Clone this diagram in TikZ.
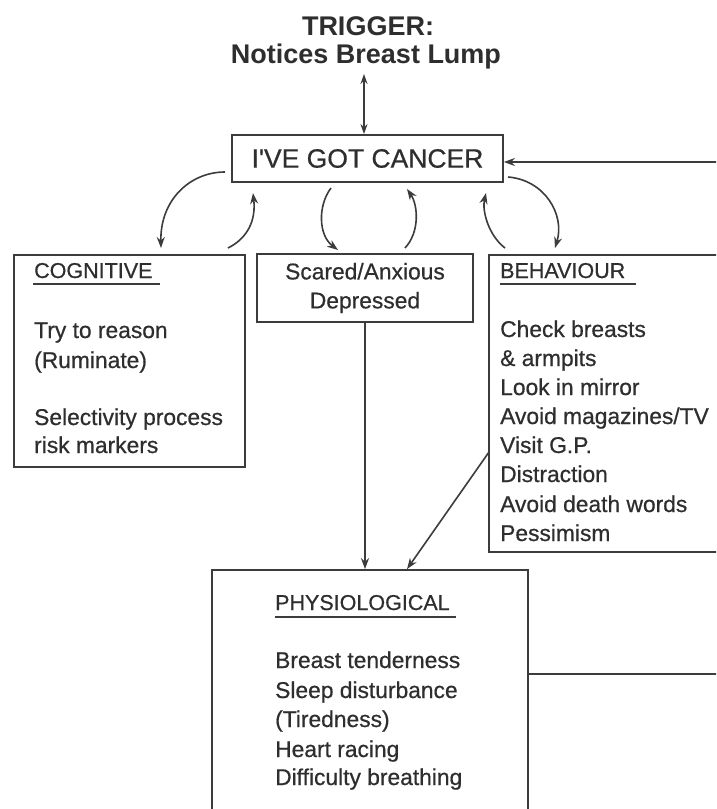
\documentclass[tikz,border=0pt]{standalone}
\usepackage{fontspec}
\setmainfont{Liberation Sans}
\newfontfamily\medium{Liberation Sans}[FakeBold=0.6]
\usetikzlibrary{arrows.meta}
\definecolor{ink}{HTML}{2E2E2E}
\definecolor{rule}{HTML}{3C3C3C}
\begin{document}
\begin{tikzpicture}[x=1pt,y=-1pt]
\tikzset{
  box/.style={draw=rule, line width=1.8pt, inner sep=0pt},
  body/.style={font=\medium\fontsize{22.8}{29}\selectfont, text=ink, inner sep=0pt, anchor=base west},
  head/.style={font=\medium\fontsize{21.5}{26}\selectfont, text=ink, inner sep=0pt, anchor=base west},
  title/.style={font=\bfseries\fontsize{27}{32}\selectfont, text=ink, inner sep=0pt, anchor=base},
  arr/.style={-{Stealth[length=11pt,width=8pt]}, draw=rule, line width=1.6pt},
  dblarr/.style={{Stealth[length=10pt,width=7pt]}-{Stealth[length=10pt,width=7pt]}, draw=rule, line width=1.6pt},
  plain/.style={draw=rule, line width=1.6pt},
  uline/.style={draw=rule, line width=1.3pt},
}
\useasboundingbox (0,0) rectangle (716,809);
\clip (0,0) rectangle (716,809);
\fill[white] (0,0) rectangle (716,809);

% trigger heading
\node[title] (trig1) at (368,35) {TRIGGER:};
\node[title] (trig2) at (366,63) {Notices Breast Lump};
\coordinate (trigfoot) at (364,74);

% central belief
\node[box, minimum width=271pt, minimum height=47pt,
      font=\medium\fontsize{26.5}{30}\selectfont, text=ink] (cancer) at (367.5,158.5) {I\char39VE GOT CANCER};

% the four response boxes
\node[box, minimum width=231pt, minimum height=212pt] (cog) at (129.5,361) {};
\node[box, minimum width=216pt, minimum height=68pt, align=center,
      font=\medium\fontsize{22.8}{29}\selectfont, text=ink] (scared) at (365,288) {Scared/Anxious\\Depressed};
\node[box, minimum width=251pt, minimum height=297pt] (behav) at (614.5,403.5) {};
\node[box, minimum width=316pt, minimum height=260pt] (phys) at (370,700) {};

% cognitive text
\node[head] (coghead) at (34,278) {COGNITIVE};
\draw[uline] (33,284) -- (160,284);
\foreach \y/\t [count=\i] in {338/{Try to reason}, 368/{(Ruminate)},
                              425/{Selectivity process}, 453/{risk markers}}
  \node[body] (cog\i) at (34,\y) {\t};

% behaviour text
\node[head] (behavhead) at (500,278) {BEHAVIOUR};
\draw[uline] (500,284) -- (636,284);
\foreach \y/\t [count=\i] in {337/{Check breasts}, 366/{\& armpits}, 395/{Look in mirror},
                              424/{Avoid magazines/TV}, 453/{Visit G.P.}, 482/{Distraction},
                              512/{Avoid death words}, 541/{Pessimism}}
  \node[body] (behav\i) at (500,\y) {\t};

% physiological text
\node[head] (physhead) at (275,610) {PHYSIOLOGICAL};
\draw[uline] (275,617) -- (456,617);
\foreach \y/\t [count=\i] in {668/{Breast tenderness}, 698/{Sleep disturbance}, 727/{(Tiredness)},
                              757/{Heart racing}, 785/{Difficulty breathing}}
  \node[body] (phys\i) at (275,\y) {\t};

% trigger link
\draw[dblarr] (trigfoot) -- (trigfoot |- cancer.north);

% feedback loop from the physiological box back to the belief
\coordinate (loopin) at (722,162);
\coordinate (loopout) at (722,674);
\draw[plain] (loopout -| phys.east) -- (loopout);
\draw[arr] (loopin) -- (loopin -| cancer.east);

% curved exchanges between the belief and the responses
\draw[arr] (225,172) .. controls (190,172) and (160,200) .. (161,248);
\draw[arr] (228,248) .. controls (248,238) and (256,220) .. (253,193);
\draw[arr] (331,188) .. controls (318,205) and (318,235) .. (338,250);
\draw[arr] (405,248) .. controls (420,232) and (418,205) .. (407,189);
\draw[arr] (505,248) .. controls (488,235) and (482,210) .. (486,193);
\draw[arr] (508,177) .. controls (545,180) and (565,215) .. (555,248);

% links into the physiological box
\draw[arr] (scared.south) -- (scared.south |- phys.north);
\coordinate (behavout) at (489,452);
\draw[arr] (behavout) -- ([xshift=37pt]phys.north);
\end{tikzpicture}
\end{document}
